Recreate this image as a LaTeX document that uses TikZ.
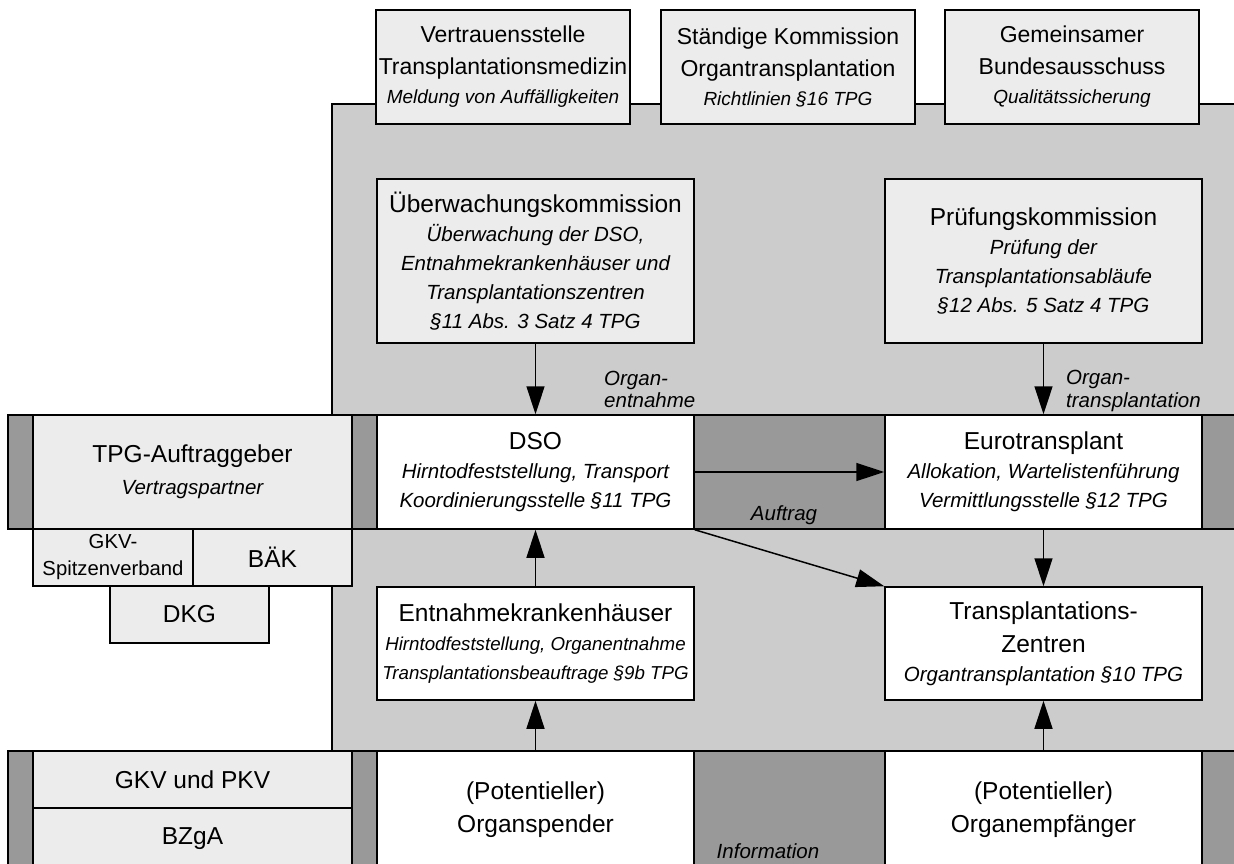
\documentclass[tikz,border=0pt]{standalone}
\usepackage{fontspec}
\setmainfont{Liberation Sans}
\usetikzlibrary{arrows.meta}
\definecolor{bggray}{RGB}{204,204,204}
\definecolor{darkstrip}{RGB}{153,153,153}
\definecolor{lightbox}{RGB}{236,236,236}
\newcommand\fmain{\fontsize{24.5}{29}\selectfont}
\newcommand\fital{\fontsize{20.5}{29}\selectfont\itshape}
\newcommand\fsmit{\fontsize{18.7}{29}\selectfont\itshape}
\newcommand\ftopmain{\fontsize{23}{32}\selectfont}
\newcommand\ftopital{\fontsize{19}{28.5}\selectfont\itshape}
\begin{document}
\begin{tikzpicture}[x=1pt,y=-1pt,
  base/.style={draw=black, line width=1.5pt, inner sep=0pt, align=center, text=black, font=\fmain},
  lbox/.style={base, fill=lightbox},
  wbox/.style={base, fill=white},
  topbox/.style={lbox, font=\ftopmain, minimum width=254pt, minimum height=114pt},
  conn/.style={draw=black, line width=1.5pt, -{Triangle[length=28pt,width=18pt]}},
  lbl/.style={inner sep=0pt, font=\fital}]
\clip (0,0) rectangle (1234,863);
% background areas
\draw[line width=1.5pt, fill=bggray] (332,104) rectangle (1250,751);
\draw[line width=1.5pt, fill=darkstrip] (8,415) rectangle (1250,529);
\draw[line width=1.5pt, fill=darkstrip] (8,751) rectangle (1250,880);
% top boxes
\node[topbox] (V) at (503,67)
  {Vertrauensstelle\\Transplantationsmedizin\\[-3pt]\ftopital Meldung von Auffälligkeiten};
\node[topbox] (SK) at (788,67)
  {Ständige Kommission\\Organtransplantation\\[-3pt]\ftopital Richtlinien §16 TPG};
\node[topbox] (GB) at (1072,67)
  {Gemeinsamer\\Bundesausschuss\\[-3pt]\ftopital Qualitätssicherung};
% commissions
\node[lbox, minimum width=317pt, minimum height=164pt] (UK) at (535.5,261)
  {Überwachungskommission\\\fital Überwachung der DSO,\\\fital Entnahmekrankenhäuser und\\\fital Transplantationszentren\\\fital §11 Abs. 3 Satz 4 TPG};
\node[lbox, minimum width=317pt, minimum height=164pt] (PK) at (1043.5,261)
  {Prüfungskommission\\\fital Prüfung der\\\fital Transplantationsabläufe\\\fital §12 Abs. 5 Satz 4 TPG};
% middle row
\node[wbox, minimum width=317pt, minimum height=114pt] (DSO) at (535.5,472)
  {DSO\\\fital Hirntodfeststellung, Transport\\\fital Koordinierungsstelle §11 TPG};
\node[wbox, minimum width=317pt, minimum height=114pt] (ET) at (1043.5,472)
  {Eurotransplant\\\fital Allokation, Wartelistenführung\\\fital Vermittlungsstelle §12 TPG};
\node[lbox, minimum width=319pt, minimum height=114pt] (TPG) at (192.5,472)
  {TPG-Auftraggeber\\[3pt]\fital Vertragspartner};
\node[lbox, minimum width=160pt, minimum height=57pt, font=\fontsize{20.3}{27}\selectfont] (GKVS) at (113,557.5)
  {GKV-\\Spitzenverband};
\node[lbox, minimum width=159pt, minimum height=57pt] (BAK) at (272.5,557.5) {BÄK};
\node[lbox, minimum width=159pt, minimum height=57pt] (DKG) at (189.5,614.5) {DKG};
% lower row
\node[wbox, minimum width=317pt, minimum height=113pt] (EK) at (535.5,643.5)
  {Entnahmekrankenhäuser\\\fsmit Hirntodfeststellung, Organentnahme\\\fsmit Transplantationsbeauftrage §9b TPG};
\node[wbox, minimum width=317pt, minimum height=113pt] (TZ) at (1043.5,643.5)
  {Transplantations-\\[4pt]Zentren\\\fital Organtransplantation §10 TPG};
% bottom row
\node[wbox, minimum width=317pt, minimum height=117pt] (OS) at (535.5,809.5)
  {(Potentieller)\\[4pt]Organspender};
\node[wbox, minimum width=317pt, minimum height=117pt] (OE) at (1043.5,809.5)
  {(Potentieller)\\[4pt]Organempfänger};
\node[lbox, minimum width=319pt, minimum height=57pt] (GKVP) at (192.5,779.5) {GKV und PKV};
\node[lbox, minimum width=319pt, minimum height=62pt] (BZGA) at (192.5,839) {BZgA};
% labels
\node[lbl, anchor=west, align=left, font=\fontsize{20.5}{22.5}\selectfont\itshape] (L1) at (604,389.5)
  {Organ-\\entnahme};
\node[lbl, anchor=west, align=left, font=\fontsize{20.5}{22.5}\selectfont\itshape] (L2) at (1066,391)
  {Organ-\\transplantation};
\node[lbl, anchor=base] (L3) at (784,520) {Auftrag};
\node[lbl, anchor=base] (L4) at (768,858) {Information};
% connectors
\draw[conn] (UK.south) -- (DSO.north);
\draw[conn] (PK.south) -- (ET.north);
\draw[conn] (DSO.east) -- (ET.west);
\draw[conn] (DSO.south east) -- (TZ.north west);
\draw[conn] (ET.south) -- (TZ.north);
\draw[conn] (EK.north) -- (DSO.south);
\draw[conn] (OS.north) -- (EK.south);
\draw[conn] (OE.north) -- (TZ.south);
\end{tikzpicture}
\end{document}
